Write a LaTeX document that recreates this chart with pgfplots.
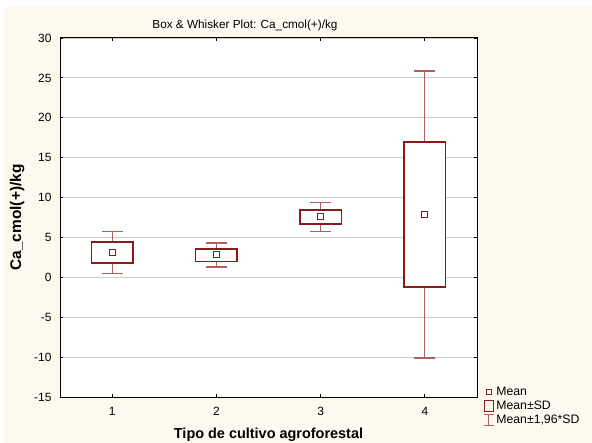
\documentclass[border=0pt]{standalone}
\usepackage{fontspec}
\setmainfont{Liberation Sans}
\usepackage{pgfplots}
\pgfplotsset{compat=1.18}
\usepgfplotslibrary{statistics}

\definecolor{boxred}{HTML}{8B1A1A}
\definecolor{whiskred}{HTML}{B05E5E}
\definecolor{cream}{HTML}{FEF9EE}
\definecolor{gridgray}{HTML}{CCCCCC}

\pgfplotsset{
  swbox/.style={
    color=boxred,
    boxplot/draw direction=y,
    boxplot/every box/.style={draw=boxred, line width=1.5bp, fill=white},
    boxplot/every whisker/.style={draw=whiskred, line width=1.2bp},
    boxplot/draw/median/.code={},
    boxplot/draw/average/.code={},
    boxplot/box extend=0.4,
    boxplot/whisker extend=0.2,
  },
}

\begin{document}
\begin{tikzpicture}
\fill[white] (0,0) rectangle (592bp,443bp);
\fill[cream] (4bp,0) rectangle (592bp,436bp);
\begin{axis}[
  at={(60bp,46bp)}, anchor=south west,
  width=417bp, height=359bp, scale only axis,
  xmin=0.5, xmax=4.5, ymin=-15, ymax=30,
  xtick={1,2,3,4}, ytick={-15,-10,...,30},
  ymajorgrids, grid style={gridgray, line width=0.8bp},
  axis line style={line width=1bp},
  tick align=inside, major tick length=3bp,
  tick style={black, line width=0.8bp},
  axis background/.style={fill=white},
  tick label style={font=\fontsize{12}{14}\selectfont},
  yticklabel style={xshift=-5bp},
  xticklabel style={yshift=-7bp},
  /pgf/number format/assume math mode=true,
  title={Box \& Whisker Plot: Ca\_cmol(+)/kg},
  title style={at={(0.4436,1.017)}, anchor=center, font=\fontsize{11.8}{14}\selectfont},
  xlabel={Tipo de cultivo agroforestal},
  xlabel style={at={(0.5,-0.104)}, anchor=center, font=\fontsize{14.5}{16}\selectfont\bfseries},
  ylabel={Ca\_cmol(+)/kg},
  ylabel style={at={(-0.103,0.5)}, anchor=center, font=\fontsize{15.5}{17}\selectfont\bfseries},
  legend style={at={(1.0144,0.034)}, anchor=north west, draw=none, fill=none,
    font=\fontsize{12.3}{14}\selectfont, row sep=0bp, inner sep=0bp},
  legend cell align=left,
]
\addplot[swbox, forget plot, boxplot prepared={draw position=1,
  lower whisker=0.47, lower quartile=1.80, median=3.10,
  upper quartile=4.40, upper whisker=5.70}] coordinates {};
\addplot[swbox, forget plot, boxplot prepared={draw position=2,
  lower whisker=1.30, lower quartile=2.01, median=2.85,
  upper quartile=3.56, upper whisker=4.31}] coordinates {};
\addplot[swbox, forget plot, boxplot prepared={draw position=3,
  lower whisker=5.79, lower quartile=6.67, median=7.58,
  upper quartile=8.47, upper whisker=9.43}] coordinates {};
\addplot[swbox, forget plot, boxplot prepared={draw position=4,
  lower whisker=-10.10, lower quartile=-1.22, median=7.92,
  upper quartile=16.98, upper whisker=25.87}] coordinates {};
% means
\addplot[color=boxred, only marks, forget plot, mark=square, mark size=3bp,
  mark options={draw=boxred, fill=white, line width=1.1bp}]
  coordinates {(1,3.10) (2,2.85) (3,7.58) (4,7.92)};

\addlegendimage{legend image code/.code={
  \draw[boxred, line width=1bp] (2.2bp,-2.5bp) rectangle (7.2bp,2.5bp);}}
\addlegendentry{Mean}
\addlegendimage{legend image code/.code={
  \draw[boxred, line width=1.2bp] (0bp,-5.3bp) rectangle (9.4bp,5.3bp);}}
\addlegendentry{Mean±SD}
\addlegendimage{legend image code/.code={
  \draw[whiskred, line width=1.2bp] (4.7bp,-5.5bp) -- (4.7bp,5.5bp)
    (-0.3bp,-5.5bp) -- (9.7bp,-5.5bp) (-0.3bp,5.5bp) -- (9.7bp,5.5bp);}}
\addlegendentry{Mean±1,96*SD}
\end{axis}
\pgfresetboundingbox
\useasboundingbox (0,0) rectangle (592bp,443bp);
\end{tikzpicture}
\end{document}
